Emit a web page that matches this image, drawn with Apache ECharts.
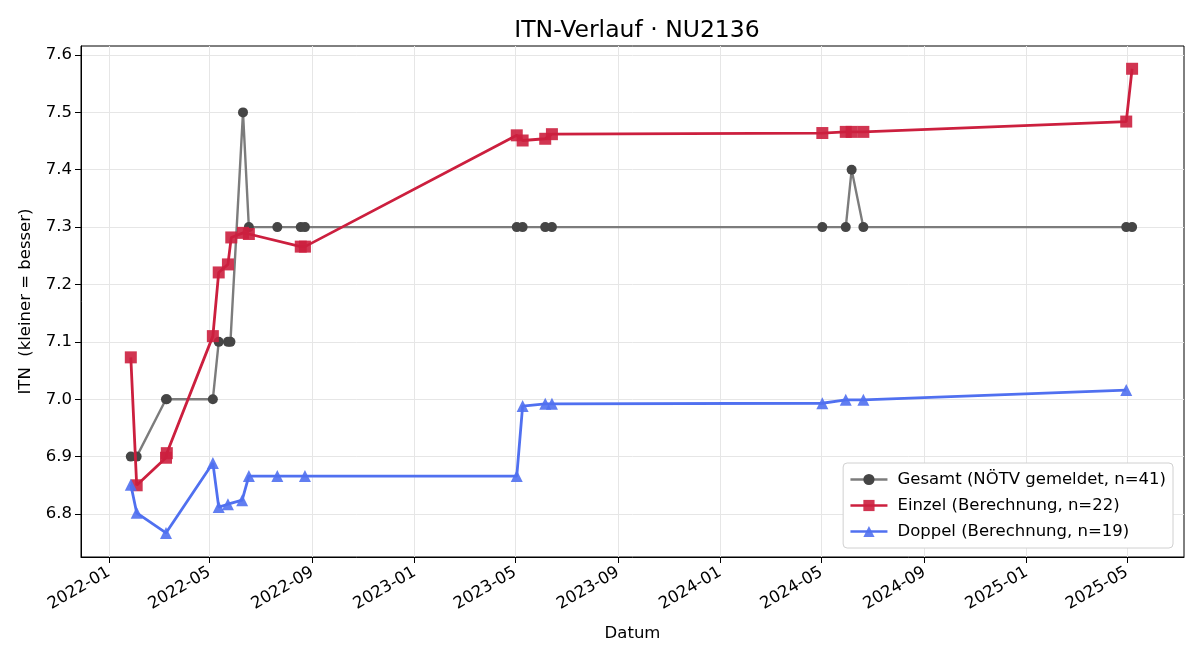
<!DOCTYPE html>
<html>
<head>
    <meta charset="utf-8">
    <title>ITN-Verlauf</title>
    <style>
        html, body { margin: 0; padding: 0; background: #fff; }
        #main { width: 1200px; height: 660px; }
    </style>
</head>
<body>
    <div id="main"></div>
    <script src="https://cdn.jsdelivr.net/npm/echarts@6/dist/echarts.min.js"></script>
    <script>
    // Gesamt (NÖTV gemeldet)
    var gesamtDates = ['2022-01-27', '2022-02-03', '2022-03-10', '2022-03-11', '2022-05-05', '2022-05-12',
        '2022-05-23', '2022-05-26', '2022-06-10', '2022-06-17', '2022-07-21', '2022-08-18', '2022-08-23',
        '2023-05-03', '2023-05-10', '2023-06-06', '2023-06-14', '2024-05-02', '2024-05-30', '2024-06-06',
        '2024-06-20', '2025-04-30', '2025-05-07'];
    var gesamtValues = [6.9, 6.9, 7.0, 7.0, 7.0, 7.1,
        7.1, 7.1, 7.5, 7.3, 7.3, 7.3, 7.3,
        7.3, 7.3, 7.3, 7.3, 7.3, 7.3, 7.4,
        7.3, 7.3, 7.3];

    // Einzel (Berechnung)
    var einzelDates = ['2022-01-27', '2022-02-03', '2022-03-10', '2022-03-11', '2022-05-05', '2022-05-12',
        '2022-05-23', '2022-05-27', '2022-06-10', '2022-06-17', '2022-08-18', '2022-08-23',
        '2023-05-03', '2023-05-10', '2023-06-06', '2023-06-14', '2024-05-02', '2024-05-30',
        '2024-06-06', '2024-06-20', '2025-04-30', '2025-05-07'];
    var einzelValues = [7.073, 6.850, 6.898, 6.906, 7.110, 7.221,
        7.235, 7.282, 7.290, 7.288, 7.266, 7.266,
        7.460, 7.451, 7.454, 7.462, 7.464, 7.466,
        7.466, 7.466, 7.484, 7.576];

    // Doppel (Berechnung)
    var doppelDates = ['2022-01-27', '2022-02-03', '2022-03-10', '2022-05-05', '2022-05-12', '2022-05-23',
        '2022-06-09', '2022-06-17', '2022-07-21', '2022-08-23', '2023-05-03', '2023-05-10',
        '2023-06-06', '2023-06-14', '2024-05-02', '2024-05-30', '2024-06-20', '2025-04-30'];
    var doppelValues = [6.851, 6.802, 6.767, 6.889, 6.812, 6.817,
        6.824, 6.866, 6.866, 6.866, 6.866, 6.988,
        6.992, 6.992, 6.993, 6.999, 6.999, 7.016];

    var xTickLabels = ['2022-01', '2022-05', '2022-09', '2023-01', '2023-05', '2023-09',
        '2024-01', '2024-05', '2024-09', '2025-01', '2025-05'];
    var yTickValues = [6.8, 6.9, 7.0, 7.1, 7.2, 7.3, 7.4, 7.5, 7.6];

    // dates -> UTC milliseconds, used on a linear value axis
    function toTime(s) {
        var p = s.split('-');
        return Date.UTC(+p[0], +p[1] - 1, p[2] ? +p[2] : 1);
    }
    function pairs(dates, values) {
        return dates.map(function (d, i) { return [toTime(d), values[i]]; });
    }
    var xTicks = xTickLabels.map(toTime);

    var font = 'DejaVu Sans';
    var fs = 16.5;
    var myChart = echarts.init(document.getElementById('main'));

    var option = {
        animation: false,
        backgroundColor: '#fff',
        title: {
            text: 'ITN-Verlauf · NU2136',
            left: 632,
            top: 14,
            textAlign: 'center',
            textStyle: { fontFamily: font, fontSize: 23.5, fontWeight: 'normal', color: '#000' }
        },
        grid: {
            left: 81, right: 16, top: 46, bottom: 103,
            show: true, borderColor: '#000', borderWidth: 1, backgroundColor: 'transparent'
        },
        legend: {
            orient: 'vertical',
            right: 27,
            bottom: 112,
            backgroundColor: '#fff',
            borderColor: '#d0d0d0',
            borderWidth: 1,
            borderRadius: 4,
            padding: [8, 7, 8, 6],
            itemGap: 9,
            itemWidth: 37,
            itemHeight: 14,
            lineStyle: { width: 2.6 },
            textStyle: { fontFamily: font, fontSize: fs, color: '#000', padding: [0, 0, 0, 5] },
            data: ['Gesamt (NÖTV gemeldet, n=41)', 'Einzel (Berechnung, n=22)', 'Doppel (Berechnung, n=19)']
        },
        xAxis: {
            type: 'value',
            min: Date.UTC(2021, 10, 28, 12),
            max: Date.UTC(2025, 6, 8),
            name: 'Datum',
            nameLocation: 'middle',
            nameGap: 68,
            nameTextStyle: { fontFamily: font, fontSize: fs, color: '#000' },
            axisLine: { show: true, onZero: false, lineStyle: { color: '#000', width: 1 } },
            axisTick: { show: true, length: 6, inside: false, customValues: xTicks, lineStyle: { color: '#000' } },
            axisLabel: {
                customValues: xTicks,
                rotate: 30,
                margin: 14,
                fontFamily: font,
                fontSize: fs,
                color: '#000',
                showMinLabel: true,
                showMaxLabel: true,
                formatter: function (v) {
                    var d = new Date(v);
                    var m = d.getUTCMonth() + 1;
                    return d.getUTCFullYear() + '-' + (m < 10 ? '0' + m : m);
                }
            },
            splitLine: { show: true, lineStyle: { color: '#e6e6e6', width: 1 } }
        },
        yAxis: {
            type: 'value',
            min: 6.725,
            max: 7.6157,
            name: 'ITN  (kleiner = besser)',
            nameLocation: 'middle',
            nameGap: 47,
            nameTextStyle: { fontFamily: font, fontSize: fs, color: '#000' },
            axisLine: { show: true, onZero: false, lineStyle: { color: '#000', width: 1 } },
            axisTick: { show: true, length: 6, customValues: yTickValues, lineStyle: { color: '#000' } },
            axisLabel: {
                customValues: yTickValues,
                margin: 9,
                fontFamily: font,
                fontSize: fs,
                color: '#000',
                formatter: function (v) { return v.toFixed(1); }
            },
            splitLine: { show: true, lineStyle: { color: '#e6e6e6', width: 1 } }
        },
        series: [
            {
                name: 'Gesamt (NÖTV gemeldet, n=41)',
                type: 'line',
                data: pairs(gesamtDates, gesamtValues),
                symbol: 'circle',
                symbolSize: 10,
                lineStyle: { color: '#7c7c7c', width: 2.4 },
                itemStyle: { color: '#454545' },
                z: 2
            },
            {
                name: 'Einzel (Berechnung, n=22)',
                type: 'line',
                data: pairs(einzelDates, einzelValues),
                symbol: 'rect',
                symbolSize: 12,
                lineStyle: { color: '#cc1f3e', width: 2.8 },
                itemStyle: { color: '#cc1f3e', opacity: 0.9 },
                z: 3
            },
            {
                name: 'Doppel (Berechnung, n=19)',
                type: 'line',
                data: pairs(doppelDates, doppelValues),
                symbol: 'triangle',
                symbolSize: 12,
                lineStyle: { color: '#5070f0', width: 2.8 },
                itemStyle: { color: '#5070f0', opacity: 0.9 },
                z: 4
            }
        ]
    };
    myChart.setOption(option);
    </script>
</body>
</html>
